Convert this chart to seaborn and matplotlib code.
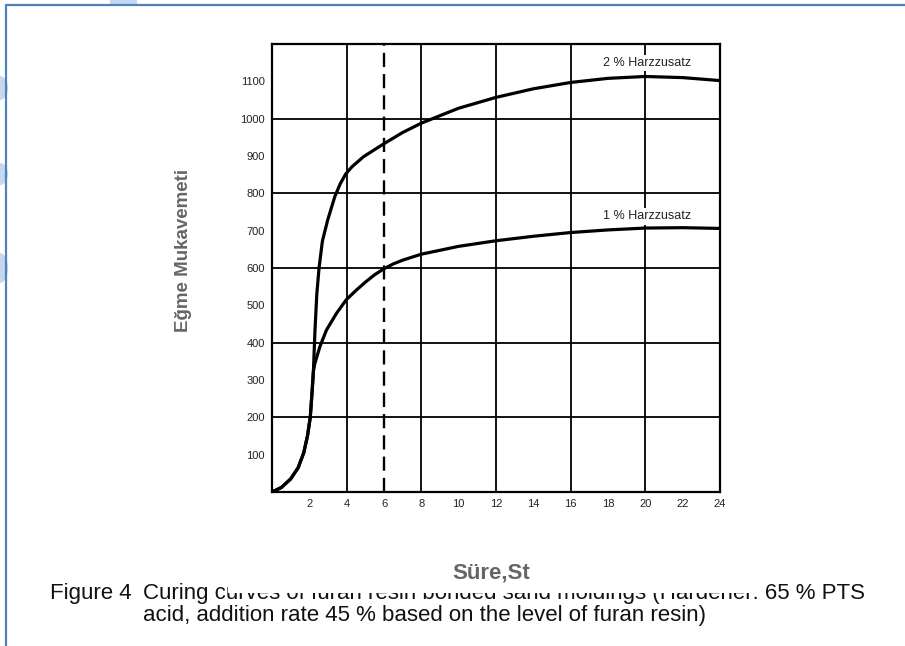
import numpy as np
import pandas as pd
import matplotlib
matplotlib.use("Agg")
import matplotlib.pyplot as plt
import seaborn as sns
from matplotlib.patches import Rectangle, Ellipse
from matplotlib.lines import Line2D

# ---- data ----
shared_t = [0, 0.5, 1.0, 1.4, 1.7, 1.9, 2.05, 2.15, 2.22]
shared_v = [0, 12, 35, 65, 105, 150, 200, 270, 325]

t_2pct = [2.3, 2.4, 2.52, 2.7, 2.98, 3.37, 3.65, 3.95, 4.3, 4.9, 5.4, 6.0, 7.0, 8.0,
          10, 12, 14, 16, 18, 20, 22, 24]
v_2pct = [430, 530, 600, 672, 728, 792, 825, 852, 872, 898, 914, 933, 963, 988,
          1028, 1057, 1080, 1097, 1108, 1113, 1110, 1102]

t_1pct = [2.3, 2.57, 2.92, 3.46, 3.98, 4.5, 5.0, 5.5, 6.0, 6.5, 7.0, 8.0,
          10, 12, 14, 16, 18, 20, 22, 24]
v_1pct = [345, 390, 434, 479, 515, 540, 562, 582, 598, 611, 621, 637,
          658, 673, 685, 695, 702, 707, 708, 706]

series_labels = ["2 % Harzzusatz", "1 % Harzzusatz"]
label_pos_t = [20.1, 20.1]
label_pos_v = [1150, 738]

x_ticks = [2, 4, 6, 8, 10, 12, 14, 16, 18, 20, 22, 24]
y_ticks = [100, 200, 300, 400, 500, 600, 700, 800, 900, 1000, 1100]
x_grid = [4, 8, 12, 16, 20]
y_grid = [200, 400, 600, 800, 1000]
dashed_t = 6

x_label = "Süre,St"
y_label = "Eğme Mukavemeti"
caption_head = "Figure 4"
caption_line1 = "Curing curves of furan resin bonded sand moldings (Hardener: 65 % PTS"
caption_line2 = "acid, addition rate 45 % based on the level of furan resin)"

df = pd.concat([
    pd.DataFrame({"t": shared_t + t_2pct, "v": shared_v + v_2pct, "s": "2 %"}),
    pd.DataFrame({"t": shared_t + t_1pct, "v": shared_v + v_1pct, "s": "1 %"}),
], ignore_index=True)

# ---- style ----
sns.set_style("white")
plt.rcParams["font.family"] = ["Liberation Sans", "DejaVu Sans"]

W, H = 905, 646
fig = plt.figure(figsize=(W / 100, H / 100), dpi=100)
fig.patch.set_facecolor("white")

ax = fig.add_axes([272 / W, 1 - 492 / H, 448 / W, 448 / H])
ax.set_zorder(5)

sns.lineplot(data=df, x="t", y="v", hue="s", palette={"2 %": "black", "1 %": "black"},
             estimator=None, sort=False, legend=False, lw=2.3, ax=ax,
             solid_capstyle="round", zorder=4)

for gx in x_grid:
    ax.axvline(gx, color="black", lw=1.3, zorder=2)
for gy in y_grid:
    ax.axhline(gy, color="black", lw=1.3, zorder=2)
ax.axvline(dashed_t, color="black", lw=1.7, ls=(0, (6, 3)), zorder=3)

ax.set_xlim(0, 24)
ax.set_ylim(0, 1200)
ax.set_xticks(x_ticks)
ax.set_yticks(y_ticks)
ax.grid(False)
ax.tick_params(which="both", length=0)
ax.tick_params(axis="x", pad=5, labelsize=8, labelcolor="#222222")
ax.tick_params(axis="y", pad=5, labelsize=8, labelcolor="#222222")
for sp in ax.spines.values():
    sp.set_visible(True)
    sp.set_color("black")
    sp.set_linewidth(1.6)

for lab, tx, ty in zip(series_labels, label_pos_t, label_pos_v):
    ax.text(tx, ty, lab, ha="center", va="center", fontsize=9, color="#222222",
            bbox=dict(facecolor="white", edgecolor="none", pad=1.5), zorder=5)

ax.set_xlabel(x_label, fontsize=16, fontweight="bold", color="#666666", va="top")
ax.xaxis.set_label_coords((491 - 272) / 448, (492 - 563) / 448)
ax.set_ylabel(y_label, fontsize=13.5, fontweight="bold", color="#666666", va="center")
ax.yaxis.set_label_coords((183 - 272) / 448, (492 - 250) / 448)

# ---- caption (partly hidden behind the axis-title box, as in the slide) ----
fs_cap = 16
fig.text(50 / W, 1 - 599 / H, caption_head, fontsize=fs_cap, va="baseline", color="#111111", zorder=1)
fig.text(143 / W, 1 - 599 / H, caption_line1, fontsize=fs_cap, va="baseline", color="#111111", zorder=1)
fig.text(143 / W, 1 - 621 / H, caption_line2, fontsize=fs_cap, va="baseline", color="#111111", zorder=1)
fig.patches.append(Rectangle((228 / W, 1 - 593 / H), 532 / W, 40 / H, transform=fig.transFigure,
                             facecolor="white", edgecolor="none", zorder=2))

# ---- slide decoration ----
blue = "#4f81bd"
light = "#c6d8f0"
for (yc, hh) in [(88, 24), (174, 22), (268, 30)]:
    fig.patches.append(Ellipse((0, 1 - yc / H), 16 / W, hh / H, transform=fig.transFigure,
                               facecolor=light, edgecolor="none", zorder=0))
fig.patches.append(Rectangle((110 / W, 1 - 5 / H), 27 / W, 5 / H, transform=fig.transFigure,
                             facecolor=light, edgecolor="none", zorder=0))
fig.lines.append(Line2D([6 / W, 6 / W], [0, 1 - 5 / H], transform=fig.transFigure,
                        color=blue, lw=1.6, zorder=1))
fig.lines.append(Line2D([6 / W, 1], [1 - 5 / H, 1 - 5 / H], transform=fig.transFigure,
                        color=blue, lw=1.6, zorder=1))

fig.savefig("out.png", dpi=100)
